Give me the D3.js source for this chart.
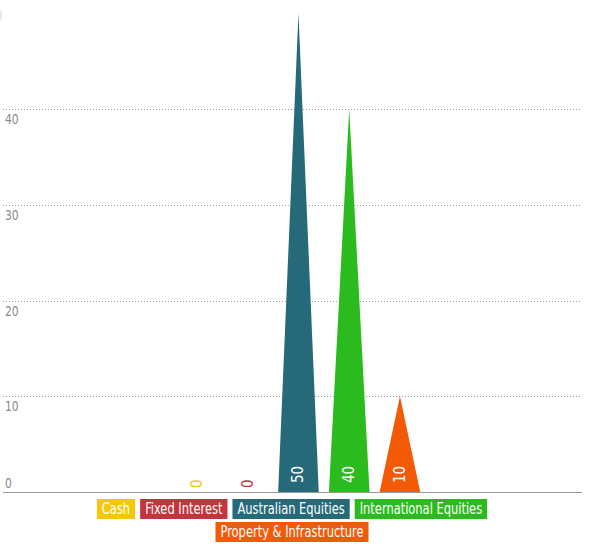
<!DOCTYPE html>
<html>
<head>
<meta charset="utf-8">
<script src="https://cdn.jsdelivr.net/npm/d3@7"></script>
<style>
  body { margin: 0; background: #fff; }
  svg { display: block; font-family: "DejaVu Sans Condensed", "DejaVu Sans", sans-serif; font-stretch: condensed; }
</style>
</head>
<body>
<svg width="592" height="550"></svg>
<script>
// chart data
const categories = ['Cash', 'Fixed Interest', 'Australian Equities', 'International Equities', 'Property & Infrastructure'];
const values = [0, 0, 50, 40, 10];
const colors = ['#f5c70c', '#c3343b', '#266a7a', '#2bbb1f', '#f25a06'];
const yTicks = [0, 10, 20, 30, 40];

var svg = d3.select('svg');
var width = +svg.attr('width');
var height = +svg.attr('height');

const plot = {left: 3, right: 582, top: 13.3, bottom: 492};
const squeeze = 0.85; // the original font is narrower than anything installed

const xScale = d3.scaleBand()
  .domain(categories)
  .range([166.5, 430.4])
  .padding(0.2);

const yScale = d3.scaleLinear()
  .domain([0, 50])
  .range([plot.bottom, plot.top]);

// faint shadow of a button cut off at the top-left
svg.append('circle')
  .attr('cx', -8).attr('cy', 15).attr('r', 10)
  .style('fill', '#e4e4e4');

// grid lines
svg.append('g').selectAll('line').data(yTicks.filter(d => d > 0))
  .enter().append('line')
  .attr('x1', plot.left).attr('x2', plot.right)
  .attr('y1', d => Math.round(yScale(d)) + 0.5)
  .attr('y2', d => Math.round(yScale(d)) + 0.5)
  .style('stroke', '#9a9a9a')
  .style('stroke-dasharray', '1,2');

svg.append('g').selectAll('text').data(yTicks)
  .enter().append('text')
  .attr('transform', d => `translate(5,${d == 0 ? yScale(d) - 4 : yScale(d) + 15}) scale(${squeeze},1)`)
  .style('font-size', '14px')
  .style('fill', '#8a8a8a')
  .text(d => d);

// baseline
svg.append('line')
  .attr('x1', plot.left).attr('x2', plot.right)
  .attr('y1', plot.bottom + 0.5).attr('y2', plot.bottom + 0.5)
  .style('stroke', '#999');

// triangles
svg.append('g').selectAll('path').data(values)
  .enter().append('path')
  .attr('d', (d, i) => {
    const x0 = xScale(categories[i]);
    const x1 = x0 + xScale.bandwidth();
    return `M${x0},${plot.bottom}L${(x0 + x1) / 2},${yScale(d)}L${x1},${plot.bottom}Z`;
  })
  .style('fill', (d, i) => colors[i]);

// value labels, rotated
svg.append('g').selectAll('text').data(values)
  .enter().append('text')
  .attr('transform', (d, i) => {
    const cx = xScale(categories[i]) + xScale.bandwidth() / 2 + 5;
    const y = d == 0 ? plot.bottom - 4 : plot.bottom - 9;
    return `translate(${cx},${y}) rotate(-90)`;
  })
  .style('font-size', '15px')
  .style('fill', (d, i) => d == 0 ? colors[i] : '#fff')
  .text(d => d);

// legend
const legend = svg.append('g');
const items = legend.selectAll('g').data(categories)
  .enter().append('g');
items.append('rect')
  .attr('height', 20)
  .style('fill', (d, i) => colors[i]);
items.append('text')
  .attr('transform', `translate(5,15) scale(${squeeze},1)`)
  .style('font-size', '15px')
  .style('fill', '#fff')
  .text(d => d);

const gap = 5, maxRow = 480;
let rows = [[]], rowW = [0];
items.each(function() {
  const w = this.querySelector('text').getComputedTextLength() * squeeze + 10;
  d3.select(this).select('rect').attr('width', w);
  let r = rows.length - 1;
  if (rowW[r] > 0 && rowW[r] + gap + w > maxRow) {
    rows.push([]); rowW.push(0); r++;
  }
  rowW[r] += (rowW[r] > 0 ? gap : 0) + w;
  rows[r].push({node: this, w: w});
});
rows.forEach((row, r) => {
  let x = 292 - rowW[r] / 2;
  row.forEach(it => {
    d3.select(it.node).attr('transform', `translate(${x},${499 + r * 23})`);
    x += it.w + gap;
  });
});
</script>
</body>
</html>
